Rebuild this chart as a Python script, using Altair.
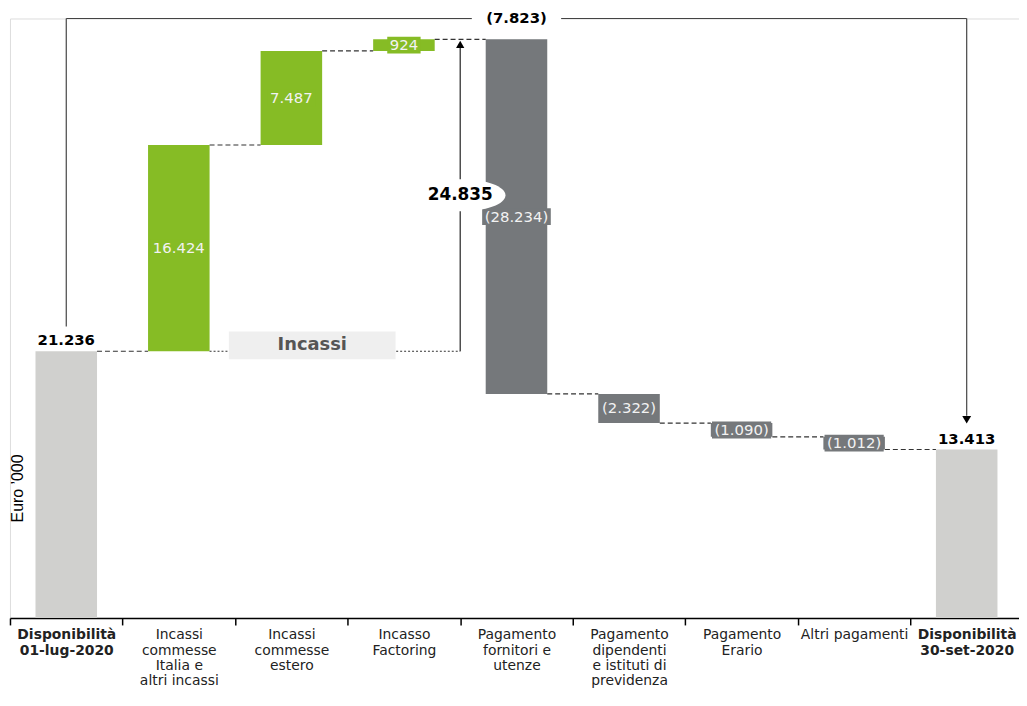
import altair as alt
import pandas as pd

# ---------------- data ----------------
label_lines = [
    ["Disponibilità", "01-lug-2020"],
    ["Incassi", "commesse", "Italia e", "altri incassi"],
    ["Incassi", "commesse", "estero"],
    ["Incasso", "Factoring"],
    ["Pagamento", "fornitori e", "utenze"],
    ["Pagamento", "dipendenti", "e istituti di", "previdenza"],
    ["Pagamento", "Erario"],
    ["Altri pagamenti"],
    ["Disponibilità", "30-set-2020"],
]
amounts = [21236, 16424, 7487, 924, -28234, -2322, -1090, -1012, 13413]
kinds = ["total", "in", "in", "in", "out", "out", "out", "out", "total"]
summary_label = "Incassi"
y_unit = "Euro \u2019000"

# ---------------- styles ----------------
GREEN = "#86bc25"
DARK = "#75787b"
LIGHT = "#d0d0ce"
FONT = "DejaVu Sans"
Y_MAX = 47730
BAR_W = 62
HALF_BAR = BAR_W / 2
STEP = 113.4
HALF_BAND = STEP / 2


def fmt(v):
    s = f"{abs(v):,}".replace(",", ".")
    return f"({s})" if v < 0 else s


CHAR_W = {"(": 0.39, ")": 0.39, ".": 0.318}


def text_w(s, size=15):
    return sum(CHAR_W.get(c, 0.636) for c in s) * size + 5


categories = ["\n".join(l) for l in label_lines]

rows = []
level = 0
for cat, amt, kind in zip(categories, amounts, kinds):
    if kind == "total":
        start, end = 0, amt
    else:
        start, end = level, level + amt
    level = end
    lab = fmt(amt)
    rows.append(dict(cat=cat, start=start, end=end, mid=(start + end) / 2,
                     kind=kind, label=lab, bgw=text_w(lab)))
bars_df = pd.DataFrame(rows)

conn_df = pd.DataFrame({
    "cat": categories[:-1],
    "next": categories[1:],
    "level": [r["end"] for r in rows[:-1]],
})

in_idx = [i for i, k in enumerate(kinds) if k == "in"]
base_level = rows[0]["end"]
top_level = rows[in_idx[-1]]["end"]
in_total = sum(amounts[i] for i in in_idx)
arrow_df = pd.DataFrame({
    "cat_first": [categories[in_idx[0]]],
    "cat_mid": [categories[in_idx[1]]],
    "cat_last": [categories[in_idx[-1]]],
    "base": [base_level],
    "top": [top_level],
    "mid": [(base_level + top_level) / 2],
    "label": [fmt(in_total)],
    "title": [summary_label],
})

net = rows[-1]["end"] - rows[0]["end"]
bracket_df = pd.DataFrame({
    "cat_a": [categories[0]],
    "cat_b": [categories[-1]],
    "cat_mid": [categories[4]],
    "start": [rows[0]["end"]],
    "end": [rows[-1]["end"]],
    "top": [Y_MAX],
    "label": [fmt(net)],
})

# ---------------- scales / axes ----------------
XS = alt.Scale(domain=categories, paddingInner=0, paddingOuter=0)
XA = alt.Axis(
    labelExpr="split(datum.label, '\\n')",
    labelAngle=0, labelFont=FONT, labelFontSize=14, labelLineHeight=15.5,
    labelColor="#222222",
    labelFontWeight={"condition": {"test": "indexof(datum.label, 'Disponibilit') >= 0",
                                   "value": "bold"}, "value": "normal"},
    labelPadding=3, labelOverlap=False, labelBound=False, labelLimit=200,
    tickSize=7, tickColor="#000000", tickWidth=1.5, tickBand="extent",
    domainColor="#000000", domainWidth=1.5, grid=False, title=None,
)
YS = alt.Scale(domain=[0, Y_MAX], nice=False, zero=True)
YA = alt.Axis(domain=False, ticks=False, labels=False, grid=False, title=y_unit,
              titleX=8, titleY=473, titleAngle=270, titleAlign="center",
              titleBaseline="middle", titleFont="Liberation Sans",
              titleFontSize=16, titleFontWeight="normal", titleColor="#000000")


def X(f):
    return alt.X(f"{f}:N", scale=XS, axis=XA, title=None)


def Y(f):
    return alt.Y(f"{f}:Q", scale=YS, axis=YA, title=y_unit)


COLOR = alt.Color("kind:N", scale=alt.Scale(domain=["total", "in", "out"],
                                            range=[LIGHT, GREEN, DARK]), legend=None)
LINE = "#333333"

# ---------------- layers ----------------
bars = alt.Chart(bars_df).mark_bar(size=BAR_W).encode(
    x=X("cat"), y=Y("start"), y2="end", color=COLOR)

connectors = alt.Chart(conn_df).mark_rule(
    color=LINE, strokeWidth=1.2, strokeDash=[5, 3],
    xOffset=HALF_BAR, x2Offset=-HALF_BAR).encode(
    x=X("cat"), x2="next", y=Y("level"))

flows = alt.Chart(bars_df).transform_filter("datum.kind != 'total'")

label_bg = flows.mark_tick(thickness=17, opacity=1).encode(
    x=X("cat"), y=Y("mid"), color=COLOR,
    size=alt.Size("bgw:Q", scale=None, legend=None))

flow_labels = flows.mark_text(font=FONT, fontSize=15, color="#f2f2f2",
                              baseline="middle").encode(
    x=X("cat"), y=Y("mid"), text="label:N")

total_labels = alt.Chart(bars_df).transform_filter("datum.kind == 'total'").mark_text(
    font=FONT, fontSize=15, fontWeight="bold", color="#000000", dy=-11,
    baseline="middle").encode(x=X("cat"), y=Y("end"), text="label:N")

# dotted base line of receipts, Incassi box
dotted = alt.Chart(arrow_df).mark_rule(
    color=LINE, strokeWidth=1.2, strokeDash=[2, 2],
    xOffset=HALF_BAR, x2Offset=HALF_BAND).encode(
    x=X("cat_first"), x2="cat_last", y=Y("base"))

inc_box = alt.Chart(arrow_df).mark_tick(
    size=168, thickness=28, color="#efefef", opacity=1, xOffset=21, yOffset=-6
).encode(x=X("cat_mid"), y=Y("base"))

inc_text = alt.Chart(arrow_df).mark_text(
    font=FONT, fontSize=18, fontWeight="bold", color="#555555",
    xOffset=21, yOffset=-6, baseline="middle").encode(
    x=X("cat_mid"), y=Y("base"), text="title:N")

# receipts arrow
arrow_line = alt.Chart(arrow_df).mark_rule(
    color="#222222", strokeWidth=1.2, xOffset=HALF_BAND, y2Offset=8).encode(
    x=X("cat_last"), y=Y("base"), y2="top")

arrow_head = alt.Chart(arrow_df).mark_point(
    shape="triangle-up", size=70, filled=True, color="#000000", opacity=1,
    xOffset=HALF_BAND, yOffset=5).encode(x=X("cat_last"), y=Y("top"))

ellipse = alt.Chart(arrow_df).mark_point(
    shape="M -1 0 A 1 0.37 0 1 0 1 0 A 1 0.37 0 1 0 -1 0 Z",
    size=7600, filled=True, color="#ffffff", opacity=1,
    xOffset=HALF_BAND + 2).encode(x=X("cat_last"), y=Y("mid"))

arrow_text = alt.Chart(arrow_df).mark_text(
    font=FONT, fontSize=17, fontWeight="bold", color="#000000",
    xOffset=HALF_BAND, baseline="middle").encode(
    x=X("cat_last"), y=Y("mid"), text="label:N")

# top bracket showing the net change
bracket_h = alt.Chart(bracket_df).mark_rule(color="#444444", strokeWidth=1.2).encode(
    x=X("cat_a"), x2="cat_b", y=Y("top"))
bracket_l = alt.Chart(bracket_df).mark_rule(
    color="#444444", strokeWidth=1.2, yOffset=-25).encode(
    x=X("cat_a"), y=Y("start"), y2="top")
bracket_r = alt.Chart(bracket_df).mark_rule(
    color="#444444", strokeWidth=1.2, yOffset=-34).encode(
    x=X("cat_b"), y=Y("end"), y2="top")
bracket_head = alt.Chart(bracket_df).mark_point(
    shape="triangle-down", size=80, filled=True, color="#000000", opacity=1,
    yOffset=-30).encode(x=X("cat_b"), y=Y("end"))
bracket_bg = alt.Chart(bracket_df).mark_tick(
    size=90, thickness=20, color="#ffffff", opacity=1).encode(
    x=X("cat_mid"), y=Y("top"))
bracket_text = alt.Chart(bracket_df).mark_text(
    font=FONT, fontSize=15, fontWeight="bold", color="#000000",
    baseline="middle").encode(x=X("cat_mid"), y=Y("top"), text="label:N")

chart = alt.layer(
    bars, connectors, dotted, label_bg, flow_labels, total_labels,
    inc_box, inc_text, arrow_line, arrow_head, ellipse, arrow_text,
    bracket_h, bracket_l, bracket_r, bracket_head, bracket_bg, bracket_text,
).properties(
    width=alt.Step(STEP), height=604,
    padding={"left": 2, "top": 8, "right": -4, "bottom": 72},
    autosize=alt.AutoSizeParams(type="none"),
).configure_view(stroke=None).configure(background="#ffffff")

chart.save("out.html", embed_options={"renderer": "svg", "actions": False})
